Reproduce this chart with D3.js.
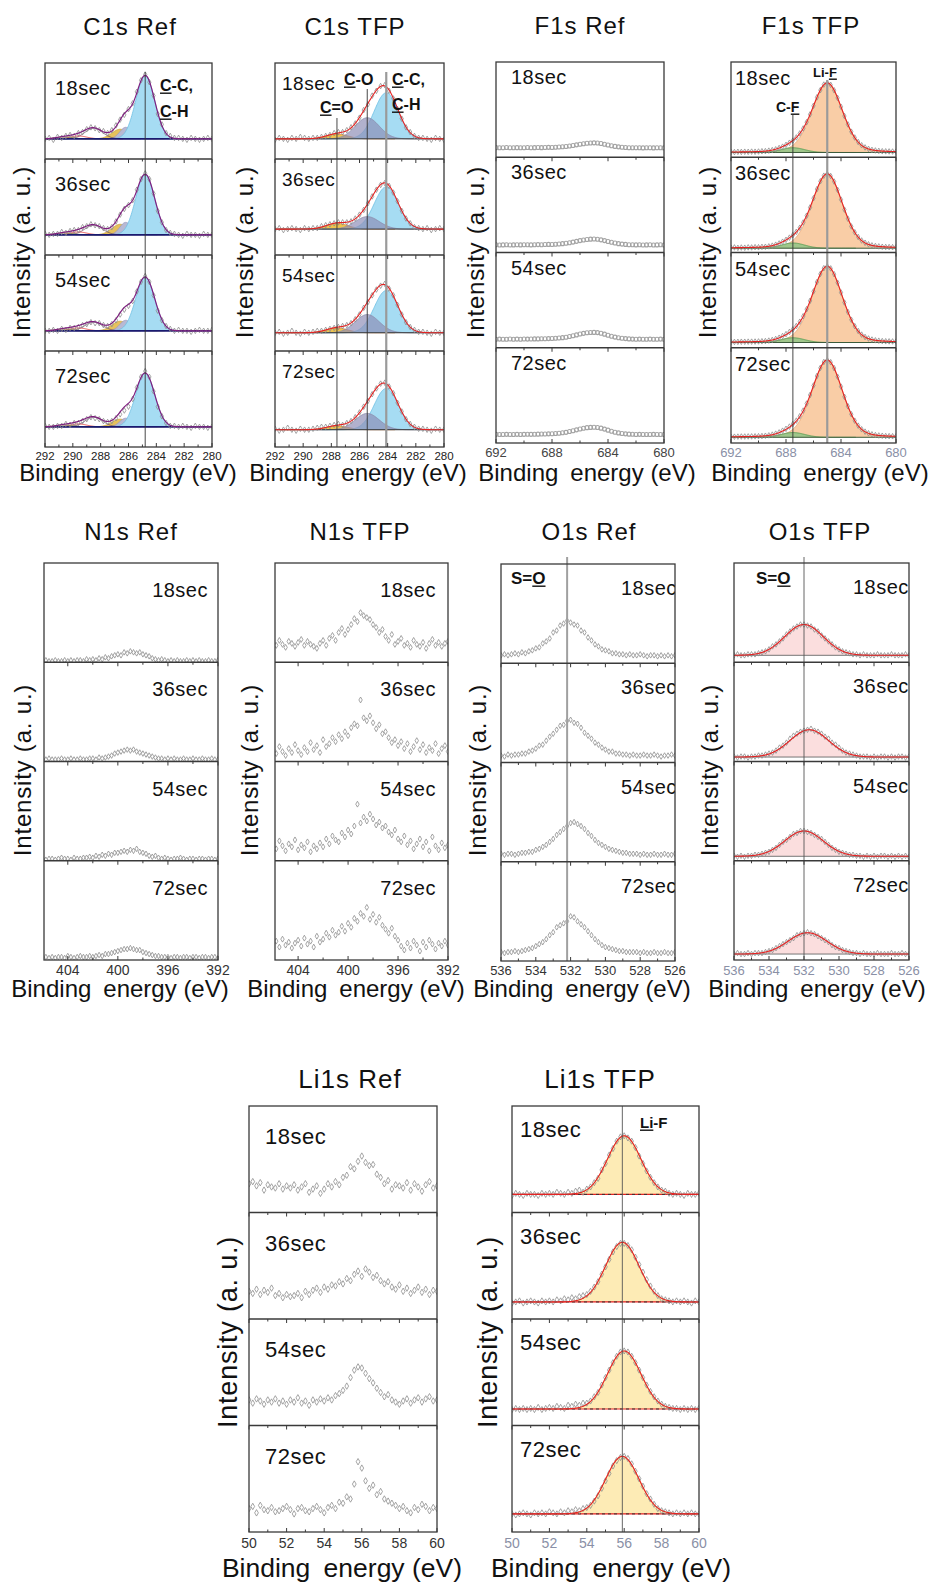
<!DOCTYPE html>
<html><head><meta charset="utf-8">
<script src="https://cdn.jsdelivr.net/npm/d3@7"></script>
<style>
body{margin:0;background:#fff;}
svg text{font-family:"Liberation Sans",Arial,Helvetica,sans-serif;}
</style></head><body>
<svg id="chart" width="929" height="1584"></svg>
<script>
// ---------------- DATA ----------------
const timeLabels = ["18sec","36sec","54sec","72sec"];

// binding-energy sampling of each spectrum (eV)
const c1sEnergy  = d3.range(41).map(i => +(292 - 0.3 * i).toFixed(2));
const f1sEnergy  = d3.range(49).map(i => +(692 - 0.25 * i).toFixed(2));
const n1sEnergy  = d3.range(57).map(i => +(406 - 0.25 * i).toFixed(2));
const o1sEnergy  = d3.range(51).map(i => +(536 - 0.2 * i).toFixed(2));
const li1sEnergy = d3.range(51).map(i => +(50 + 0.2 * i).toFixed(2));

// tick labels
const c1sTicks = [292,290,288,286,284,282,280];
const c1sMinor = [291,289,287,285,283,281];
const f1sTicks = [692,688,684,680];
const f1sMinor = [690,686,682];
const n1sTicks = [404,400,396,392];
const n1sMinor = [402,398,394];
const o1sTicks = [536,534,532,530,528,526];
const o1sMinor = [535,533,531,529,527];
const li1sTicks = [50,52,54,56,58,60];
const li1sMinor = [51,53,55,57,59];

// measured intensities, % of each sub-panel height
const c1sRefPts = [
[21,22,20,23,22,24,25,24,27,28,31,33,32,30,29,27,30,35,41,46,52,58,70,82,88,80,66,47,36,27,24,22,22,21,20,22,21,20,21,22,21],
[22,21,22,22,24,23,25,26,26,29,30,32,31,30,28,27,29,35,42,48,52,57,68,79,85,79,64,46,34,26,23,22,21,20,22,21,21,20,22,21,21],
[21,21,22,21,23,22,24,24,25,27,28,30,29,29,27,26,28,32,38,43,47,52,62,72,78,72,58,42,32,26,23,21,22,21,21,20,21,22,21,21,22],
[22,21,21,22,22,24,23,25,25,27,29,31,30,29,27,26,27,30,34,38,42,50,62,73,79,73,58,42,32,25,22,22,21,22,21,20,22,21,21,20,21]];
const c1sTfpPts = [
[20,22,21,20,22,21,23,22,21,22,22,23,24,25,27,28,28,30,33,37,43,51,57,66,71,76,77,71,63,52,42,33,28,24,22,22,21,20,22,21,20],
[27,28,26,27,28,27,26,28,27,28,28,30,31,32,33,34,34,34,35,38,42,47,54,61,68,73,75,72,65,56,46,38,33,29,28,27,28,26,27,28,27],
[19,20,18,19,21,19,18,20,19,20,21,21,22,23,24,25,26,27,29,33,38,45,51,58,64,68,70,65,58,48,38,30,25,22,20,20,19,18,20,19,19],
[19,17,18,20,18,17,19,18,18,19,20,21,21,22,23,24,23,25,27,31,36,42,48,55,61,66,67,63,56,46,37,29,24,21,19,19,18,17,19,18,18]];
const f1sRefPts = [
[10.1,9.9,10,10.2,9.9,10,10.1,9.9,10,10.2,10,10.1,10.3,10.1,10.2,10.4,10.3,10.5,10.7,11,11.3,11.8,12.3,13,13.6,14.2,14.7,15,15.1,14.9,14.4,13.7,12.9,12.1,11.4,10.9,10.5,10.2,10,9.9,10,9.9,9.8,10,9.9,9.8,10,9.9,9.8],
[8.1,7.9,8,8.1,7.9,8,8.2,8,8.1,8.2,8,8.2,8.3,8.2,8.4,8.5,8.4,8.7,9,9.3,9.7,10.3,10.9,11.7,12.5,13.2,13.7,14,14.1,13.9,13.3,12.5,11.6,10.7,9.9,9.3,8.8,8.5,8.2,8.1,8,8.1,7.9,8,8.1,7.9,8,8.1,7.9],
[9,9.1,8.9,9,9.2,9,9.1,9,9.2,9.1,9.2,9.3,9.3,9.4,9.5,9.6,9.7,9.9,10.2,10.6,11.1,11.8,12.6,13.5,14.4,15.1,15.7,16,16.1,15.9,15.2,14.3,13.2,12.1,11.2,10.5,9.9,9.6,9.3,9.1,9,9.1,8.9,9,9.1,8.9,9,9.1,9],
[9.1,9,9,9.1,8.9,9,9.1,9,9.1,9.2,9.1,9.2,9.3,9.4,9.4,9.6,9.7,9.9,10.2,10.7,11.2,12,12.8,13.8,14.7,15.5,16.1,16.4,16.5,16.3,15.6,14.6,13.5,12.3,11.3,10.6,10,9.6,9.3,9.2,9,9.1,9,8.9,9,9.1,9,8.9,9]];
const f1sTfpPts = [
[5.5,5.4,5.7,5.6,5.8,5.7,5.9,5.8,6,6.3,6.4,6.9,7.5,8.3,9.7,11.1,13,15.2,17.5,20.8,25,30.2,36.8,45,54,62.9,70.5,76.3,78,76,70.3,62.3,53,43.3,34.5,26.8,20.7,16,12.6,10.3,8.8,7.7,7.1,6.7,6.3,6.2,6.1,6,5.9],
[5,5.3,4.9,5.2,5,5.4,5.3,5.6,5.5,5.9,6,6.4,7.2,8.2,9.5,11.3,13.3,15.6,18.3,21.7,26,31.5,38.6,47.3,57,66.5,74.8,80.6,82.5,80.3,74.5,65.8,55.5,45,35.5,27.4,21.2,16.3,12.6,10.2,8.6,7.5,6.8,6.4,6,5.8,5.7,5.6,5.5],
[6,6.1,6.2,6.3,6.3,6.4,6.4,6.5,6.6,6.8,7,7.5,8.2,9.2,10.5,12.3,14.3,16.6,19.3,22.8,27.3,33.1,40.5,49.3,59.2,69,77.5,83.5,85.5,83.3,77.2,68.3,58,47.5,37.7,29.4,22.7,17.6,13.8,11.3,9.7,8.6,7.8,7.4,7,6.8,6.7,6.6,6.5],
[6.5,6.6,6.7,6.8,6.8,6.9,6.9,7,7.1,7.3,7.6,8,8.8,9.8,11.1,12.9,14.9,17.2,20,23.5,28.1,34,41.4,50.4,60.4,70.3,78.9,85,87,84.8,78.6,69.6,59.2,48.5,38.6,30.2,23.4,18.2,14.4,11.9,10.2,9.1,8.3,7.9,7.6,7.3,7.2,7.1,7]];
const n1sRefPts = [
[1,2,1,1,2,1,1,2,1,2,1,2,2,1,3,2,3,2,4,3,5,4,6,7,8,7,10,9,11,10,9,10,8,7,6,4,3,2,3,2,1,2,1,2,1,1,2,1,2,1,2,1,1,2,1,1,2],
[2,2,3,2,2,2,3,2,2,3,2,2,3,2,2,3,3,2,4,3,4,5,6,8,9,10,11,12,11,12,10,9,8,7,6,5,4,3,3,2,3,2,3,2,2,3,2,2,3,2,2,3,2,2,3,2,2],
[2,1,2,2,1,2,3,2,2,1,3,2,2,3,3,4,3,5,4,6,5,7,6,8,8,9,10,9,11,10,12,9,8,7,5,4,5,3,2,3,2,1,2,2,3,2,1,2,2,1,2,2,1,2,2,1,2],
[2,3,2,3,2,3,3,2,4,3,2,3,4,3,3,4,3,4,5,4,6,6,7,8,9,10,11,11,12,11,10,10,8,7,6,5,4,4,3,3,3,2,3,3,2,3,3,2,3,3,2,3,3,2,3,3,2]];
const n1sTfpPts = [
[20,17,22,18,15,21,19,16,20,23,17,21,18,16,14,19,22,17,24,27,22,30,34,28,33,38,44,41,50,47,45,43,38,35,30,33,26,22,28,18,21,24,17,19,15,22,18,16,20,14,19,23,17,20,16,19,21],
[12,8,15,10,6,13,9,17,11,7,14,10,19,12,16,9,22,15,18,24,20,27,23,30,26,34,38,36,62,44,41,46,39,33,37,28,30,24,19,22,16,20,13,18,10,15,21,12,17,9,14,11,18,8,13,16,10],
[18,12,20,15,10,17,14,21,11,16,13,19,9,15,12,18,14,22,17,25,21,19,28,24,31,27,35,57,38,44,40,47,42,36,39,33,35,29,26,31,22,19,25,16,20,12,17,22,14,19,10,24,15,11,18,13,16],
[16,19,13,21,15,18,12,17,20,14,22,16,19,13,24,18,21,27,23,30,25,28,34,29,37,33,42,39,47,44,53,41,46,38,43,35,31,27,32,24,20,14,10,17,12,19,15,9,18,13,20,16,11,17,14,19,15]];
const o1sRefPts = [
[8,9,8,9,10,9,11,10,12,13,15,16,20,22,25,31,33,38,40,43,41,39,38,33,31,26,23,19,17,14,13,12,10,10,9,9,8,9,8,8,9,8,7,8,8,7,8,7,8,7,8],
[7,6,8,7,8,8,9,9,11,12,14,17,18,22,26,29,33,37,38,42,43,40,39,35,30,27,24,20,18,15,13,11,11,9,9,8,8,7,8,7,7,8,7,7,8,7,6,7,7,8,7],
[8,7,8,8,7,8,9,9,10,10,12,13,15,17,20,23,27,30,33,36,39,40,38,36,33,29,26,22,19,17,15,13,12,11,10,9,9,8,8,8,7,8,7,7,8,7,7,8,7,7,8],
[9,8,9,9,10,9,10,11,12,13,15,17,19,22,26,29,34,36,38,40,45,44,40,37,34,30,26,22,19,16,14,13,12,11,10,10,9,9,9,9,8,9,8,8,9,8,8,9,8,8,9]];
const o1sTfpPts = [
[7,8,7,7,8,8,8,9,10,11,13,16,18,21,24,28,31,34,36,38,38,37,36,33,31,27,24,21,18,15,13,11,10,9,8,8,7,8,7,7,7,8,7,7,7,8,7,7,7,8,7],
[5,4,5,5,4,5,5,6,6,7,8,9,11,14,16,19,23,26,28,30,31,32,33,31,30,28,25,23,19,17,14,11,9,8,7,6,5,5,5,4,5,4,5,5,4,5,4,5,5,4,5],
[5,4,5,4,5,5,6,6,7,8,9,11,13,16,19,21,24,27,28,30,30,29,28,26,24,22,19,16,13,11,9,8,7,6,6,5,5,4,5,4,5,4,5,5,4,5,4,5,4,5,4],
[6,7,6,6,7,6,7,7,7,8,9,10,12,14,16,18,20,22,25,26,27,28,27,26,24,22,20,18,15,13,12,10,9,8,7,7,6,7,6,6,6,7,6,6,6,7,6,6,7,6,6]];
const li1sRefPts = [
[27,29,25,28,21,26,24,23,27,22,25,23,26,21,24,27,19,22,25,18,22,27,24,29,26,33,35,43,41,48,53,47,44,45,36,33,27,30,22,26,25,23,28,21,27,24,20,26,29,23,25],
[26,24,28,23,27,25,29,22,24,20,23,21,22,24,20,26,23,27,29,25,30,28,32,31,35,33,38,36,42,45,40,47,44,39,41,36,33,35,30,28,32,26,29,24,27,30,25,28,23,27,26],
[24,21,25,23,20,24,22,25,21,23,20,24,22,26,21,23,19,24,22,25,23,26,24,28,30,33,37,45,52,55,54,49,44,40,35,31,27,29,24,22,20,23,25,21,24,26,22,25,27,23,24],
[22,24,18,25,21,20,23,19,20,22,24,21,17,22,23,20,19,22,24,21,18,23,25,22,28,27,33,31,45,66,60,48,41,44,35,38,31,29,27,25,22,24,20,18,23,21,26,24,20,23,22]];
const li1sTfpPts = [
[16,18,17,16,18,17,17,16,18,17,18,17,19,18,17,19,18,20,21,19,22,24,28,32,40,46,54,60,67,71,72,70,67,61,53,46,39,33,28,24,21,20,18,17,18,17,16,18,17,17,18],
[15,16,17,15,16,17,16,15,17,16,17,16,18,17,19,18,20,19,21,22,23,26,30,35,42,49,56,63,68,71,71,69,65,58,51,44,37,31,26,22,19,18,17,16,17,16,17,16,15,17,16],
[15,16,15,16,15,16,15,17,15,16,17,16,18,17,16,19,18,20,19,21,21,23,27,31,38,45,52,59,65,69,70,69,65,59,52,45,38,32,27,23,20,18,17,16,16,15,16,15,16,15,16],
[17,16,17,18,17,16,18,17,18,17,19,18,17,19,18,20,19,21,20,22,23,25,29,34,41,48,55,62,67,70,71,69,64,57,50,43,36,31,26,22,20,19,18,17,18,17,18,17,18,17,17]];

// fitted peak parameters (centre eV, FWHM eV, height % above background)
const c1sRefBase = [21,21,21,21];
const c1sRefCenters = [284.8, 286.2, 286.6, 288.5, 289.6, 290.6];
const c1sRefFwhm = [1.6, 1.0, 1.4, 1.5, 1.4, 1.4];
const c1sRefHeights = [[66,12,10,11,3,2],[63,13,11,10,3,2],[56,11,10,9,3,2],[56,9,8,10,3,2]];

const c1sTfpBase = [21,27,19,18];
const c1sTfpCenters = [284.1, 285.45, 287.6];
const c1sTfpFwhm = [2.0, 2.0, 1.8];
const c1sTfpHeights = [[48,22,5],[44,13,6],[44,19,5],[43,17,4]];

const f1sTfpBase = [5,4.5,5.5,6];
const f1sTfpCenters = [685.0, 687.5];
const f1sTfpFwhm = [2.6, 2.0];
const f1sTfpLorentz = [0.2, 0];
const f1sTfpHeights = [[73,5],[78,5.5],[80,5],[81,5]];

const o1sTfpBase = [7,4.5,4.5,6];
const o1sTfpCenters = [[532.0],[531.7],[532.0],[531.8]];
const o1sTfpFwhm = [2.6];
const o1sTfpHeights = [[31],[27.5],[25.5],[21.5]];

const li1sTfpBase = [17,16,15.5,17];
const li1sTfpCenters = [[56.0],[55.9],[56.0],[55.9]];
const li1sTfpFwhm = [2.1];
const li1sTfpHeights = [[55],[56],[54.5],[54]];

// ---------------- DRAWING ----------------
const svg = d3.select('#chart');
const defs = svg.append('defs');
let clipCount = 0;

function pv(d, w, eta) {
  const r = d / w;
  return (1 - eta) * Math.exp(-4 * Math.LN2 * r * r) + eta / (1 + 4 * r * r);
}

function richText(parent, t) {
  const el = parent.append('text').attr('x', t.x).attr('y', t.y)
    .attr('font-size', t.size).attr('font-weight', 'bold').attr('fill', '#111')
    .text(t.parts.map(p => p[0]).join(''));
  const node = el.node();
  let idx = 0;
  t.parts.forEach(p => {
    if (p[1]) {
      const off = idx > 0 ? node.getSubStringLength(0, idx) : 0;
      const w = node.getSubStringLength(idx, p[0].length);
      parent.append('line').attr('x1', t.x + off).attr('x2', t.x + off + w)
        .attr('y1', t.y + 2.2).attr('y2', t.y + 2.2)
        .attr('stroke', '#111').attr('stroke-width', 1.4);
    }
    idx += p[0].length;
  });
}

function drawPanel(p) {
  const g = svg.append('g');
  const x = d3.scaleLinear().domain(p.domain).range([p.x0, p.x1]);
  const subH = (p.y1 - p.y0) / 4;
  const lo = Math.min(...p.domain), hi = Math.max(...p.domain);
  const fine = d3.range(lo, hi + 1e-9, 0.04);

  for (let s = 0; s < 4; s++) {
    const top = p.y0 + s * subH, bot = top + subH;
    const y = d3.scaleLinear().domain([0, 100]).range([bot, top]);
    const id = 'clip' + (clipCount++);
    defs.append('clipPath').attr('id', id).append('rect')
      .attr('x', p.x0).attr('y', top).attr('width', p.x1 - p.x0).attr('height', subH);
    const sg = g.append('g').attr('clip-path', `url(#${id})`);

    let comps = null, base = 0;
    if (p.fit) {
      const f = p.fit;
      base = f.base[s];
      comps = f.fwhm.map((w, k) => ({
        c: Array.isArray(f.centers[0]) ? f.centers[s][k] : f.centers[k],
        w: w, h: f.heights[s][k], eta: f.eta ? f.eta[k] : 0, style: f.styles[k]
      }));
      f.order.forEach(k => {
        const c = comps[k];
        const span = (c.eta > 0 ? 4 : 2.3) * c.w;
        const xs = fine.filter(e => Math.abs(e - c.c) <= span);
        const val = e => base + c.h * pv(e - c.c, c.w, c.eta);
        if (c.style.fill !== 'none') {
          sg.append('path').datum(xs)
            .attr('d', d3.area().x(e => x(e)).y0(y(base)).y1(e => y(val(e))))
            .attr('fill', c.style.fill).attr('stroke', 'none');
        }
        sg.append('path').datum(xs)
          .attr('d', d3.line().x(e => x(e)).y(e => y(val(e))))
          .attr('fill', 'none').attr('stroke', c.style.stroke)
          .attr('stroke-width', c.style.sw || 0.8);
      });
      f.baseStyles.forEach(bs => {
        sg.append('line').attr('x1', p.x0).attr('x2', p.x1)
          .attr('y1', y(base)).attr('y2', y(base))
          .attr('stroke', bs.stroke).attr('stroke-width', bs.sw)
          .attr('stroke-dasharray', bs.dash || null);
      });
    }

    // measured points
    const pts = p.pts[s].map((v, i) => [p.energy[i], v]);
    if (p.marker === 'circle') {
      sg.selectAll(null).data(pts).enter().append('circle')
        .attr('cx', d => x(d[0])).attr('cy', d => y(d[1])).attr('r', 2)
        .attr('fill', 'none').attr('stroke', '#a4a4a4').attr('stroke-width', 1.1);
    } else {
      const sym = d3.symbol().type(d3.symbolDiamond).size(p.msize || 9);
      sg.selectAll(null).data(pts).enter().append('path')
        .attr('d', sym)
        .attr('transform', d => `translate(${x(d[0])},${y(d[1])})`)
        .attr('fill', 'none').attr('stroke', '#8e8e8e').attr('stroke-width', 0.8);
    }

    // fitted envelope
    if (comps) {
      const env = e => base + d3.sum(comps, c => c.h * pv(e - c.c, c.w, c.eta));
      sg.append('path').datum(fine)
        .attr('d', d3.line().x(e => x(e)).y(e => y(env(e))))
        .attr('fill', 'none').attr('stroke', p.fit.envColor).attr('stroke-width', p.fit.envWidth || 1.1);
    }

    // time label
    sg.append('text').attr('x', p.label.x).attr('y', top + p.label.dy)
      .attr('text-anchor', p.label.anchor || 'start')
      .attr('font-size', p.label.size || 20).attr('letter-spacing', 0.5)
      .attr('fill', '#111').text(timeLabels[s]);
  }

  // reference lines
  (p.lines || []).forEach(l => {
    g.append('line').attr('x1', x(l.e)).attr('x2', x(l.e))
      .attr('y1', l.y0).attr('y2', l.y1 || p.y1)
      .attr('stroke', l.c || '#333').attr('stroke-width', l.w || 0.9);
  });

  // frame + dividers
  g.append('rect').attr('x', p.x0).attr('y', p.y0)
    .attr('width', p.x1 - p.x0).attr('height', p.y1 - p.y0)
    .attr('fill', 'none').attr('stroke', '#3a3a3a').attr('stroke-width', 1.3);
  for (let s = 1; s < 4; s++) {
    const yy = p.y0 + s * subH;
    g.append('line').attr('x1', p.x0).attr('x2', p.x1).attr('y1', yy).attr('y2', yy)
      .attr('stroke', '#3a3a3a').attr('stroke-width', 1.3);
  }

  // ticks (inward)
  for (let s = 1; s <= 4; s++) {
    const yy = p.y0 + s * subH;
    const dir = s === 4 ? -1 : 1;
    p.ticks.forEach(t => g.append('line').attr('x1', x(t)).attr('x2', x(t))
      .attr('y1', yy).attr('y2', yy + dir * 4).attr('stroke', '#3a3a3a').attr('stroke-width', 1));
    p.minor.forEach(t => g.append('line').attr('x1', x(t)).attr('x2', x(t))
      .attr('y1', yy).attr('y2', yy + dir * 2.5).attr('stroke', '#3a3a3a').attr('stroke-width', 1));
  }
  // tick labels
  g.selectAll(null).data(p.ticks).enter().append('text')
    .attr('x', d => x(d)).attr('y', p.tickY)
    .attr('text-anchor', 'middle')
    .attr('font-size', p.tickSize || 13).attr('fill', p.tickColor).text(d => d);

  // annotations
  (p.notes || []).forEach(t => richText(g, t));

  // titles & axis labels
  g.append('text').attr('x', p.title.x).attr('y', p.title.y).attr('text-anchor', 'middle')
    .attr('font-size', p.title.size || 24).attr('letter-spacing', 1).attr('fill', '#111')
    .text(p.title.t);
  g.append('text').attr('x', p.xlab.x).attr('y', p.xlab.y).attr('text-anchor', 'middle')
    .attr('font-size', p.xlab.size || 24).attr('fill', '#111')
    .text('Binding\u2002energy (eV)');
  g.append('text').attr('transform', `translate(${p.ylab.x},${p.ylab.y}) rotate(-90)`)
    .attr('text-anchor', 'middle').attr('dominant-baseline', 'central')
    .attr('font-size', p.ylab.size || 24).attr('letter-spacing', 0.8).attr('fill', '#111')
    .text('Intensity (a. u.)');
}

const TFPTICK = '#8a90a6';
const panels = [
  { title:{t:'C1s Ref', x:130, y:35}, x0:45, x1:212, y0:63, y1:447, domain:[292,280],
    energy:c1sEnergy, pts:c1sRefPts, ticks:c1sTicks, minor:c1sMinor, tickY:460, tickColor:'#222', tickSize:11.5,
    xlab:{x:128, y:481}, ylab:{x:21, y:252}, label:{x:55, dy:32},
    fit:{ base:c1sRefBase, centers:c1sRefCenters, fwhm:c1sRefFwhm, heights:c1sRefHeights,
      styles:[{fill:'#a6dcf3',stroke:'#6cbfe3'},{fill:'#b8b9d3',stroke:'#9a9cc0'},{fill:'#e6c15c',stroke:'#c9a33c'},
              {fill:'none',stroke:'#5a3a5a',sw:0.7},{fill:'none',stroke:'#e03030'},{fill:'none',stroke:'#6b6b1a'}],
      order:[2,1,0,3,4,5], baseStyles:[{stroke:'#1a1a70', sw:1.6}], envColor:'#7f1f7f', envWidth:1.2 },
    lines:[{e:284.8, y0:72}],
    notes:[{x:160,y:91,size:16,parts:[['C',1],['-C,',0]]},{x:160,y:117,size:16,parts:[['C',1],['-H',0]]}] },
  { title:{t:'C1s TFP', x:355, y:35}, x0:275, x1:444, y0:63, y1:447, domain:[292,280],
    energy:c1sEnergy, pts:c1sTfpPts, ticks:c1sTicks, minor:c1sMinor, tickY:460, tickColor:'#222', tickSize:11.5,
    xlab:{x:358, y:481}, ylab:{x:244, y:252}, label:{x:282, dy:27, size:19},
    fit:{ base:c1sTfpBase, centers:c1sTfpCenters, fwhm:c1sTfpFwhm, heights:c1sTfpHeights,
      styles:[{fill:'#a6dcf3',stroke:'#6cbfe3'},{fill:'rgba(140,140,182,0.68)',stroke:'#8a8aaa'},{fill:'#efc44e',stroke:'#e07a30'}],
      order:[2,0,1], baseStyles:[{stroke:'#333', sw:1}], envColor:'#e52222' },
    lines:[{e:287.6, y0:118}, {e:285.45, y0:89}, {e:284.1, y0:72, c:'#9a9a9a', w:2.2}],
    notes:[{x:344,y:85,size:16,parts:[['C',1],['-O',0]]},{x:320,y:113,size:16,parts:[['C',1],['=O',0]]},
           {x:392,y:85,size:16,parts:[['C',1],['-C,',0]]},{x:392,y:110,size:16,parts:[['C',1],['-H',0]]}] },
  { title:{t:'F1s Ref', x:580, y:34}, x0:496, x1:664, y0:62, y1:443, domain:[692,680],
    energy:f1sEnergy, pts:f1sRefPts, marker:'circle', ticks:f1sTicks, minor:f1sMinor, tickY:457, tickColor:'#444',
    xlab:{x:587, y:481}, ylab:{x:475, y:252}, label:{x:511, dy:22} },
  { title:{t:'F1s TFP', x:811, y:34}, x0:731, x1:896, y0:62, y1:443, domain:[692,680],
    energy:f1sEnergy, pts:f1sTfpPts, ticks:f1sTicks, minor:f1sMinor, tickY:457, tickColor:TFPTICK,
    xlab:{x:820, y:481}, ylab:{x:707, y:252}, label:{x:735, dy:23},
    fit:{ base:f1sTfpBase, centers:f1sTfpCenters, fwhm:f1sTfpFwhm, heights:f1sTfpHeights, eta:f1sTfpLorentz,
      styles:[{fill:'#f9cda6',stroke:'#eaa575'},{fill:'rgba(130,195,130,0.75)',stroke:'#4f9a4f'}],
      order:[0,1], baseStyles:[{stroke:'#3c5c3c', sw:1}], envColor:'#e52222' },
    lines:[{e:685.0, y0:80, c:'#9a9a9a', w:2.2}, {e:687.5, y0:115}],
    notes:[{x:813,y:77,size:13,parts:[['Li-',0],['F',1]]},{x:776,y:112,size:14,parts:[['C-',0],['F',1]]}] },
  { title:{t:'N1s Ref', x:131, y:540}, x0:44, x1:218, y0:563, y1:960, domain:[405.9,392],
    energy:n1sEnergy, pts:n1sRefPts, ticks:n1sTicks, minor:n1sMinor, tickY:975, tickColor:'#333', tickSize:14,
    xlab:{x:120, y:997}, ylab:{x:22, y:770}, label:{x:208, dy:34, anchor:'end'} },
  { title:{t:'N1s TFP', x:360, y:540}, x0:275, x1:448, y0:563, y1:960, domain:[405.85,392],
    energy:n1sEnergy, pts:n1sTfpPts, ticks:n1sTicks, minor:n1sMinor, tickY:975, tickColor:'#333', tickSize:14,
    xlab:{x:356, y:997}, ylab:{x:249, y:770}, label:{x:436, dy:34, anchor:'end'}, msize:10 },
  { title:{t:'O1s Ref', x:589, y:540}, x0:501, x1:675, y0:564, y1:961, domain:[536,526],
    energy:o1sEnergy, pts:o1sRefPts, ticks:o1sTicks, minor:o1sMinor, tickY:975, tickColor:'#333', tickSize:13,
    xlab:{x:582, y:997}, ylab:{x:477, y:770}, label:{x:621, dy:31},
    lines:[{e:532.2, y0:557, c:'#a0a0a0', w:2}],
    notes:[{x:511,y:584,size:17,parts:[['S=',0],['O',1]]}] },
  { title:{t:'O1s TFP', x:820, y:540}, x0:734, x1:909, y0:563, y1:960, domain:[536,526],
    energy:o1sEnergy, pts:o1sTfpPts, ticks:o1sTicks, minor:o1sMinor, tickY:975, tickColor:TFPTICK, tickSize:13,
    xlab:{x:817, y:997}, ylab:{x:709, y:770}, label:{x:853, dy:31},
    fit:{ base:o1sTfpBase, centers:o1sTfpCenters, fwhm:o1sTfpFwhm, heights:o1sTfpHeights,
      styles:[{fill:'#fbdede',stroke:'#f0a8a8'}], order:[0], baseStyles:[{stroke:'#666', sw:0.9}], envColor:'#e52222' },
    lines:[{e:532.0, y0:557, c:'#555'}],
    notes:[{x:756,y:584,size:17,parts:[['S=',0],['O',1]]}] },
  { title:{t:'Li1s Ref', x:350, y:1088, size:26}, x0:249, x1:437, y0:1106, y1:1532, domain:[50,60],
    energy:li1sEnergy, pts:li1sRefPts, ticks:li1sTicks, minor:li1sMinor, tickY:1548, tickColor:'#333', tickSize:14,
    xlab:{x:342, y:1577, size:26.5}, ylab:{x:228, y:1332, size:27}, label:{x:265, dy:38, size:22}, msize:12 },
  { title:{t:'Li1s TFP', x:600, y:1088, size:26}, x0:512, x1:699, y0:1106, y1:1532, domain:[50,60],
    energy:li1sEnergy, pts:li1sTfpPts, ticks:li1sTicks, minor:li1sMinor, tickY:1548, tickColor:TFPTICK, tickSize:14,
    xlab:{x:611, y:1577, size:26.5}, ylab:{x:488, y:1332, size:27}, label:{x:520, dy:31, size:22}, msize:11,
    fit:{ base:li1sTfpBase, centers:li1sTfpCenters, fwhm:li1sTfpFwhm, heights:li1sTfpHeights,
      styles:[{fill:'#fdebb5',stroke:'#e8c070'}], order:[0],
      baseStyles:[{stroke:'#e52222', sw:1.2},{stroke:'#333', sw:1, dash:'3,3'}], envColor:'#e52222' },
    lines:[{e:55.9, y0:1106, c:'#555'}],
    notes:[{x:640,y:1128,size:15,parts:[['Li',1],['-F',0]]}] }
];

panels.forEach(drawPanel);
</script>
</body></html>
